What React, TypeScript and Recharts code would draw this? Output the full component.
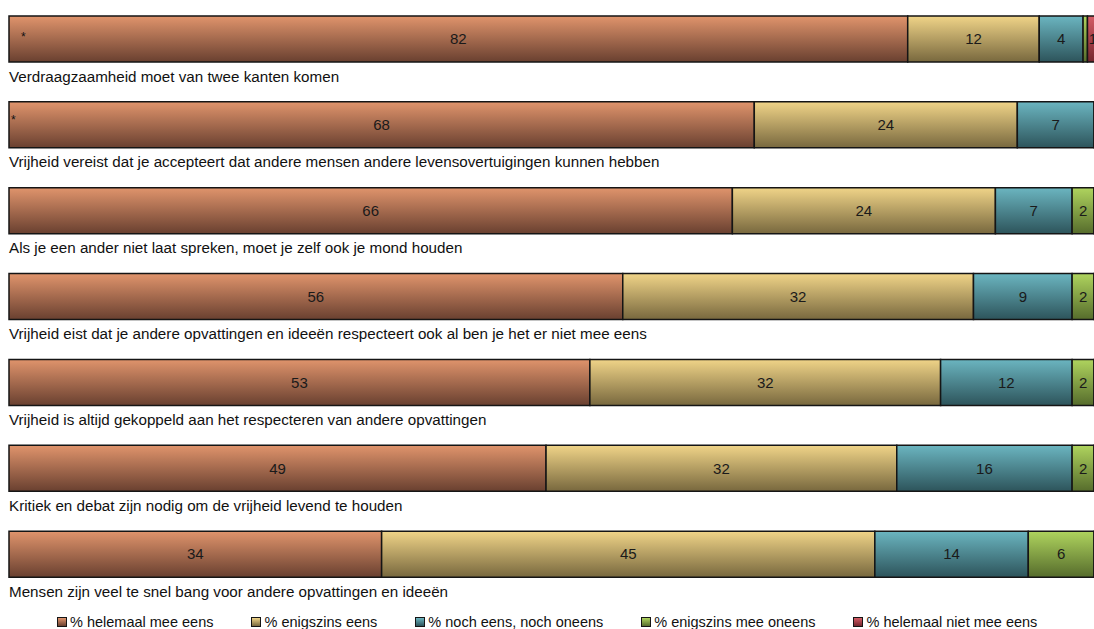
import React from "react";
import { Bar, BarChart, LabelList, XAxis, YAxis } from "recharts";

const statements = [
  "Verdraagzaamheid moet van twee kanten komen",
  "Vrijheid vereist dat je accepteert dat andere mensen andere levensovertuigingen kunnen hebben",
  "Als je een ander niet laat spreken, moet je zelf ook je mond houden",
  "Vrijheid eist dat je andere opvattingen en ideeën respecteert ook al ben je het er niet mee eens",
  "Vrijheid is altijd gekoppeld aan het respecteren van andere opvattingen",
  "Kritiek en debat zijn nodig om de vrijheid levend te houden",
  "Mensen zijn veel te snel bang voor andere opvattingen en ideeën",
];

const helemaalEens = [82, 68, 66, 56, 53, 49, 34];
const enigszinsEens = [12, 24, 24, 32, 32, 32, 45];
const noch = [4, 7, 7, 9, 12, 16, 14];
const enigszinsOneens = [0.4, 1, 2, 2, 2, 2, 6];
const helemaalOneens = [1, 0, 1, 1, 1, 1, 1];
const notes = ["*", "*", "", "", "", "", ""];

const SERIES = [
  { key: "a", name: "% helemaal mee eens", values: helemaalEens, top: "#E0946C", bottom: "#694030" },
  { key: "b", name: "% enigszins eens", values: enigszinsEens, top: "#F0D488", bottom: "#78683E" },
  { key: "c", name: "% noch eens, noch oneens", values: noch, top: "#6BB5C0", bottom: "#2D545B" },
  { key: "d", name: "% enigszins mee oneens", values: enigszinsOneens, top: "#AFD45E", bottom: "#566C2C" },
  { key: "e", name: "% helemaal niet mee eens", values: helemaalOneens, top: "#D55C66", bottom: "#74262E" },
];

const FONT = "'Liberation Sans', Arial, sans-serif";

const rows = statements.map((name, i) => {
  const row: Record<string, any> = { name, note: notes[i] };
  SERIES.forEach((s) => (row[s.key] = s.values[i]));
  return row;
});

// statement text sits under each bar
function RowLabel(props: any) {
  const { x, y, height, index } = props;
  return (
    <text x={x} y={y + height + 14} dominantBaseline="central" fontSize={15.2} fill="#111" fontFamily={FONT}>
      {statements[index]}
    </text>
  );
}

function NoteLabel(props: any) {
  const { x, y, height, index } = props;
  const note = notes[index];
  if (!note) return null;
  const dx = index === 0 ? 12 : 2;
  const dy = index === 0 ? height / 2 - 2 : height / 2 - 5;
  return (
    <text x={x + dx} y={y + dy} fontSize={12} fill="#111" fontFamily={FONT} dominantBaseline="central">
      {note}
    </text>
  );
}

export default function App() {
  return (
    <div
      style={{
        width: 1094,
        height: 629,
        boxSizing: "border-box",
        paddingLeft: 8,
        overflow: "hidden",
        fontFamily: FONT,
      }}
    >
      <style>{`html,body{margin:0;overflow:hidden}`}</style>
      <div style={{ marginTop: -4 }}>
        <BarChart
          width={1110}
          height={610}
          data={rows}
          layout="vertical"
          margin={{ top: 0, right: 13, bottom: 9, left: 1 }}
          barCategoryGap={0}
        >
          <defs>
            {SERIES.map((s) => (
              <linearGradient key={s.key} id={`g-${s.key}`} x1="0" y1="0" x2="0" y2="1">
                <stop offset="0%" stopColor={s.top} />
                <stop offset="100%" stopColor={s.bottom} />
              </linearGradient>
            ))}
          </defs>
          <XAxis type="number" domain={[0, 100]} hide />
          <YAxis type="category" dataKey="name" hide />
          {SERIES.map((s) => (
            <Bar
              key={s.key}
              dataKey={s.key}
              name={s.name}
              stackId="x"
              barSize={46}
              fill={`url(#g-${s.key})`}
              stroke="#151515"
              strokeWidth={1.5}
              isAnimationActive={false}
            >
              <LabelList
                dataKey={s.key}
                position="center"
                formatter={(v: any) => (Number(v) >= 1 ? Math.round(Number(v)) : "")}
                style={{ fontSize: 15, fill: "#1a1a1a", fontFamily: FONT }}
              />
              {s.key === "a" && <LabelList dataKey="note" content={<NoteLabel />} />}
              {s.key === "a" && <LabelList dataKey="name" content={<RowLabel />} />}
            </Bar>
          ))}
        </BarChart>
      </div>
      <div
        style={{
          display: "flex",
          gap: 38,
          paddingLeft: 49,
          marginTop: 8,
          fontSize: 14.5,
          lineHeight: "16px",
          color: "#111",
          whiteSpace: "nowrap",
        }}
      >
        {SERIES.map((s) => (
          <div key={s.key} style={{ display: "flex", alignItems: "center" }}>
            <span
              style={{
                width: 8,
                height: 8,
                border: "1.5px solid #151515",
                background: `linear-gradient(${s.top}, ${s.bottom})`,
                marginRight: 3,
              }}
            />
            <span>{s.name}</span>
          </div>
        ))}
      </div>
    </div>
  );
}
